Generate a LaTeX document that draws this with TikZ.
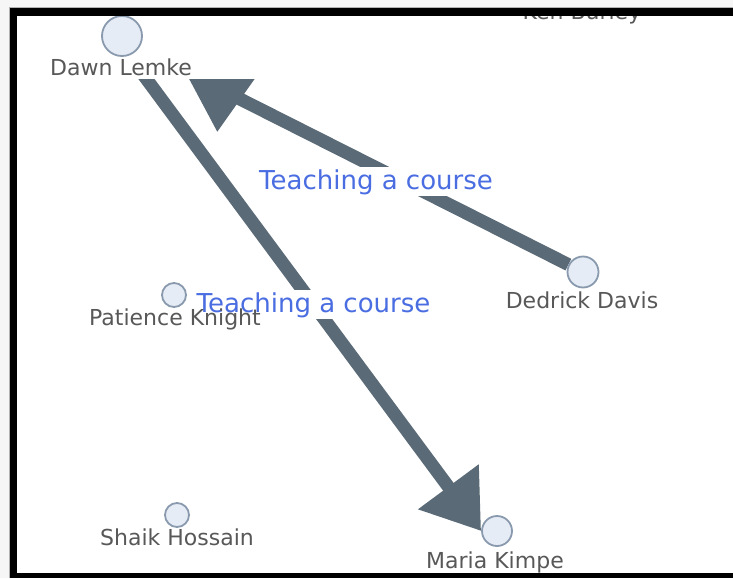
\documentclass[tikz,border=0pt]{standalone}
\usepackage{fontspec}
\setmainfont{DejaVu Sans}
\usetikzlibrary{arrows.meta}

\definecolor{edgegrey}{HTML}{5A6A76}
\definecolor{nodefill}{HTML}{E6ECF5}
\definecolor{nodeline}{HTML}{8A9AAE}
\definecolor{namegrey}{HTML}{585858}
\definecolor{flowblue}{HTML}{4A6DE2}
\definecolor{pagebg}{HTML}{F6F6F6}

\pgfdeclarelayer{backdrop}
\pgfdeclarelayer{edges}
\pgfdeclarelayer{labels}
\pgfsetlayers{backdrop,edges,labels,main}

\tikzset{
  personnode/.style={circle, draw=nodeline, fill=nodefill, line width=1.8pt, inner sep=0pt},
  personname/.style={font=\fontsize{22}{26}\selectfont, text=namegrey, anchor=base,
               inner sep=2pt},
  relationedge/.style={draw=edgegrey, line width=13pt, line join=round},
  relationname/.style={font=\fontsize{26}{30}\selectfont, text=flowblue, anchor=base,
                  fill=white, inner sep=2pt},
  canvas/.style={insert path={(17,16) rectangle (733,573)}},
}

\begin{document}
\begin{tikzpicture}[x=1pt,y=-1pt]
\useasboundingbox (0,0) rectangle (733,578);

\begin{pgfonlayer}{backdrop}
  \fill[pagebg] (0,0) rectangle (733,578);
  \fill[white] (17,16) rectangle (733,573);
\end{pgfonlayer}

% people
\node[personnode, minimum size=40pt] (dawn)     at (122,36)  {};
\node[personnode, minimum size=31pt] (dedrick)  at (583,272) {};
\node[personnode, minimum size=24pt] (patience) at (174,295) {};
\node[personnode, minimum size=24pt] (shaik)    at (177,515) {};
\node[personnode, minimum size=30pt] (maria)    at (497,531) {};

% where the arrow into Dawn Lemke turns and ends
\coordinate (dawnturn) at (240,99);
\coordinate (dawnhit)  at (175,53);

% relations
\begin{pgfonlayer}{edges}
  \begin{scope}
    \clip[canvas];
    \draw[relationedge, -{Triangle[length=80pt,width=76pt]}]
      (dedrick) -- (dawnturn) -- (dawnhit);
    \draw[relationedge, -{Triangle[length=55pt,width=72pt]}]
      (dawn.290) -- (maria.west);
  \end{scope}
\end{pgfonlayer}

% names and relation labels
\begin{pgfonlayer}{labels}
  \begin{scope}
    \clip[canvas];
    \node[personname] (kenlbl) at (582,20) {Ken Burley};
    \node[personname, fill=white, text height=22pt, text depth=2pt, minimum width=300pt]
         (dawnlbl) at (121,75) {Dawn Lemke};
    \node[personname] (dedricklbl) at (582,308) {Dedrick Davis};
    \node[personname] (shaiklbl)   at (177,545) {Shaik Hossain};
    \node[personname] (marialbl)   at (495,568) {Maria Kimpe};
    \node[relationname] (rel1) at (376,189)   {Teaching a course};
    \node[relationname] (rel2) at (313.5,312) {Teaching a course};
    \node[personname] (patiencelbl) at (175,325) {Patience Knight};
  \end{scope}
\end{pgfonlayer}

% frame
\fill[black] (10,8) rectangle (733,16);
\fill[black] (10,8) rectangle (17,578);
\fill[black] (10,573) rectangle (733,578);
\draw[gray!60, line width=0.8pt] (9.5,578) -- (9.5,7.5) -- (733,7.5);
\end{tikzpicture}
\end{document}
